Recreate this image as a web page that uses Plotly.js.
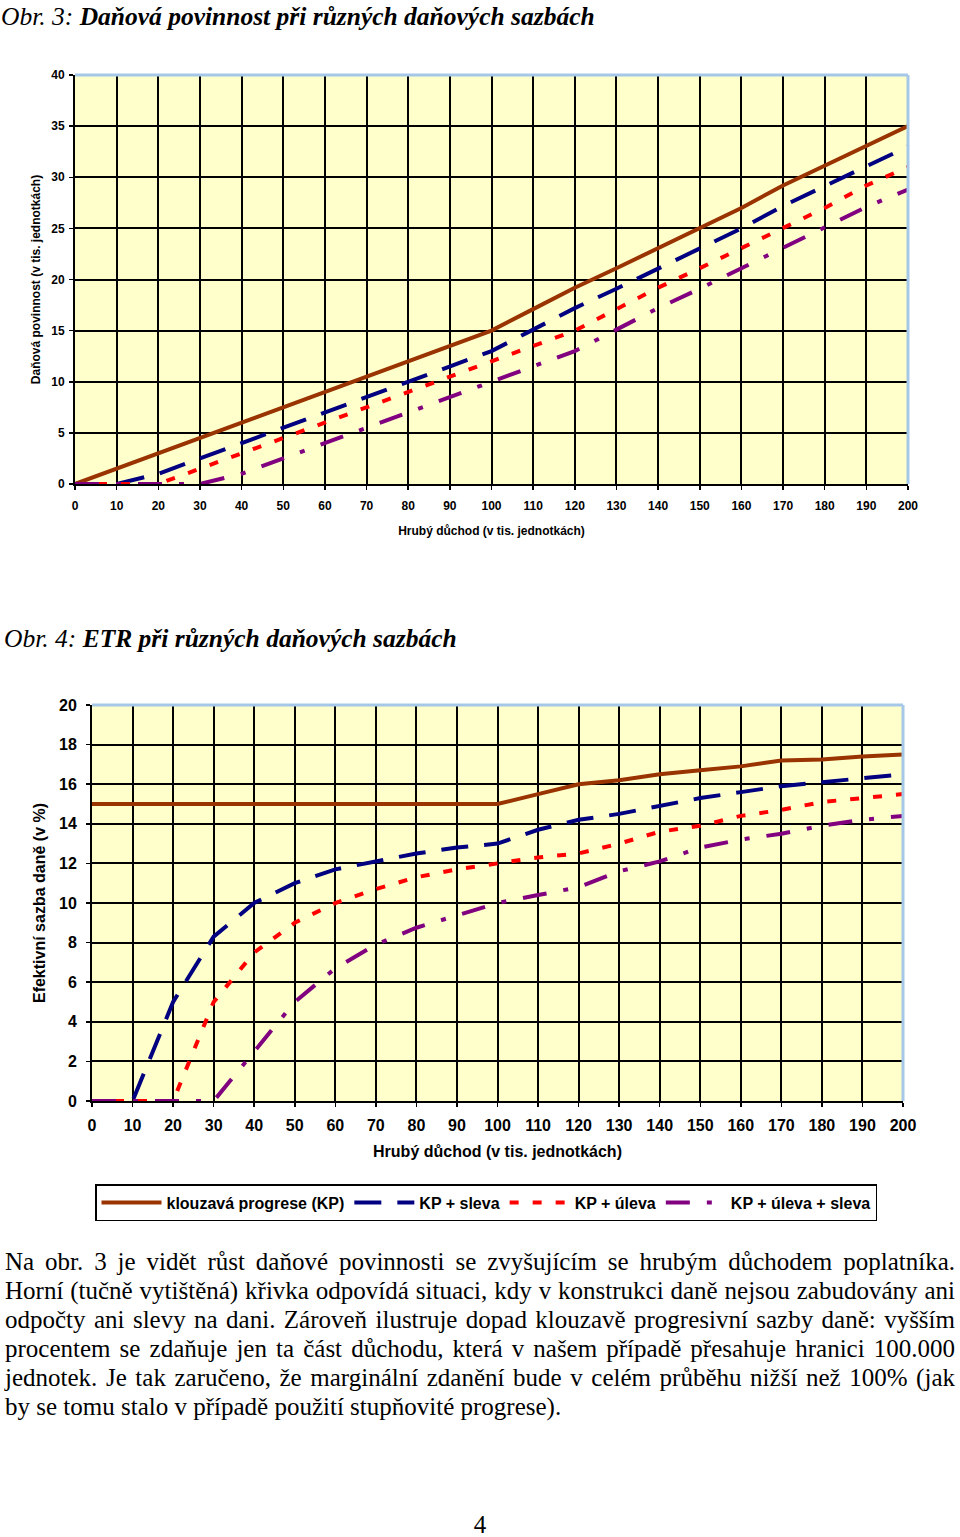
<!DOCTYPE html>
<html><head><meta charset="utf-8">
<script src="https://cdn.plot.ly/plotly-3.0.1.min.js"></script>
<style>
body{margin:0;background:#fff;width:960px;height:1537px;position:relative;overflow:hidden}
#chart{position:absolute;left:0;top:0;width:960px;height:1537px}
#text{position:absolute;left:5px;top:1247px;width:950px;font-family:"Liberation Serif","Times New Roman",serif;font-size:25px;line-height:29px;color:#000}
.ln{text-align:justify;text-align-last:justify;white-space:nowrap}
.last{text-align:left;text-align-last:left}
#page{position:absolute;left:0;width:960px;top:1511px;text-align:center;font-family:"Liberation Serif","Times New Roman",serif;font-size:25px;color:#000}
</style></head>
<body>
<div id="chart"></div>
<div id="text">
<div class="ln">Na obr. 3 je vidět růst daňové povinnosti se zvyšujícím se hrubým důchodem poplatníka.</div>
<div class="ln">Horní (tučně vytištěná) křivka odpovídá situaci, kdy v konstrukci daně nejsou zabudovány ani</div>
<div class="ln">odpočty ani slevy na dani. Zároveň ilustruje dopad klouzavě progresivní sazby daně: vyšším</div>
<div class="ln">procentem se zdaňuje jen ta část důchodu, která v našem případě přesahuje hranici 100.000</div>
<div class="ln">jednotek. Je tak zaručeno, že marginální zdanění bude v celém průběhu nižší než 100% (jak</div>
<div class="ln last">by se tomu stalo v případě použití stupňovité progrese).</div>
</div>
<div id="page">4</div>
<script>
// Hrubý důchod (v tis. jednotkách)
var income = [0,10,20,30,40,50,60,70,80,90,100,110,120,130,140,150,160,170,180,190,200];

// Obr. 3 – daňová povinnost (v tis. jednotkách)
var taxKP          = [0,1.5,3,4.5,6,7.5,9,10.5,12,13.5,15,17.1,19.2,21.1,23.1,25,27,29.2,31.1,33.1,35];
var taxSleva       = [0,0,1,2.5,4,5.5,7,8.5,10,11.5,13,15.1,17.2,19.1,21.1,23,25,27.2,29.1,31.1,33];
var taxUleva       = [0,0,0,1.5,3,4.5,6,7.5,9,10.5,12,13.5,15,17.1,19.2,21.1,23.1,25,27,29.2,31];
var taxUlevaSleva  = [0,0,0,0,1,2.5,4,5.5,7,8.5,10,11.5,13,15.1,17.2,19.1,21.1,23,25,27.1,28.8];

// Obr. 4 – efektivní sazba daně (v %)
var etrKP          = [15,15,15,15,15,15,15,15,15,15,15,15.5,16,16.2,16.5,16.7,16.9,17.2,17.25,17.4,17.5];
var etrSleva       = [0,0,5,8.3,10,11,11.7,12.1,12.5,12.8,13,13.7,14.2,14.5,14.9,15.3,15.6,15.9,16.1,16.3,16.5];
var etrUleva       = [0,0,0,5,7.5,9,10,10.7,11.3,11.7,12,12.3,12.5,13,13.6,13.9,14.4,14.7,15.1,15.3,15.5];
var etrUlevaSleva  = [0,0,0,0,2.5,5,6.7,7.9,8.75,9.4,10,10.4,10.8,11.6,12.1,12.8,13.2,13.5,13.9,14.2,14.4];

var seriesNames = ['klouzavá progrese (KP)','KP + sleva','KP + úleva','KP + úleva + sleva'];
var seriesColors = ['#993300','#000080','#FF0000','#800080'];
var dashes = ['solid','27px,16px','9px,14px','24px,17px,5px,17px'];

var topVals = [taxKP, taxSleva, taxUleva, taxUlevaSleva];
var botVals = [etrKP, etrSleva, etrUleva, etrUlevaSleva];

var traces = [];
topVals.forEach(function(v,i){
  traces.push({x:income, y:v, type:'scatter', mode:'lines', name:seriesNames[i],
    xaxis:'x', yaxis:'y', showlegend:false,
    line:{color:seriesColors[i], width:4, dash:dashes[i]}});
});
botVals.forEach(function(v,i){
  traces.push({x:income, y:v, type:'scatter', mode:'lines', name:seriesNames[i],
    xaxis:'x2', yaxis:'y2', showlegend:true,
    line:{color:seriesColors[i], width:4, dash:dashes[i]}});
});

var H = 1537, W = 960;
function py(p){ return 1 - p/H; }
function px(p){ return p/W; }

var sansB12 = {family:'"Liberation Sans", Arial, sans-serif', size:12, color:'#000', weight:'bold'};
var sansB16 = {family:'"Liberation Sans", Arial, sans-serif', size:16, color:'#000', weight:'bold'};

var axCommon = {showgrid:true, gridcolor:'#000', gridwidth:2, zeroline:false,
  showline:true, linecolor:'#000', linewidth:2, ticks:'outside', ticklen:4, tickcolor:'#000', tickwidth:1.5,
  automargin:false, fixedrange:true};

function ax(extra){ var o={}; for(var k in axCommon) o[k]=axCommon[k]; for(var k2 in extra) o[k2]=extra[k2]; return o; }

var layout = {
  width:W, height:H, margin:{l:0,r:0,t:0,b:0,pad:0,autoexpand:false},
  paper_bgcolor:'#ffffff', plot_bgcolor:'#FFFFCC',
  font:{family:'"Liberation Sans", Arial, sans-serif', color:'#000'},
  xaxis: ax({domain:[px(75),px(908)], anchor:'y', range:[0,200], tick0:0, dtick:10,
    tickfont:sansB12, ticklabelstandoff:6,
    title:{text:'Hrubý důchod (v tis. jednotkách)', font:sansB12, standoff:14}}),
  yaxis: ax({domain:[py(484),py(75)], anchor:'x', range:[0,40], tick0:0, dtick:5,
    tickfont:sansB12, ticklabelstandoff:2,
    title:{text:'Daňová povinnost (v tis. jednotkách)', font:sansB12, standoff:8}}),
  xaxis2: ax({domain:[px(92),px(903)], anchor:'y2', range:[0,200], tick0:0, dtick:10,
    tickfont:sansB16, ticklabelstandoff:5,
    title:{text:'Hrubý důchod (v tis. jednotkách)', font:sansB16, standoff:13}}),
  yaxis2: ax({domain:[py(1101),py(705)], anchor:'x2', range:[0,20], tick0:0, dtick:2,
    tickfont:sansB16, ticklabelstandoff:6,
    title:{text:'Efektivní sazba daně (v %)', font:sansB16, standoff:9}}),
  showlegend:true,
  legend:{orientation:'h', x:px(95), xanchor:'left', y:py(1184), yanchor:'top',
    bgcolor:'#ffffff', bordercolor:'#000', borderwidth:1.5, itemwidth:60,
    font:sansB16, traceorder:'normal'},
  shapes:[
    {type:'line', xref:'x domain', yref:'y domain', x0:0, x1:1, y0:1, y1:1, line:{color:'#A6C8E8', width:3}},
    {type:'line', xref:'x domain', yref:'y domain', x0:1, x1:1, y0:0, y1:1, line:{color:'#A6C8E8', width:3}},
    {type:'line', xref:'x2 domain', yref:'y2 domain', x0:0, x1:1, y0:1, y1:1, line:{color:'#A6C8E8', width:3}},
    {type:'line', xref:'x2 domain', yref:'y2 domain', x0:1, x1:1, y0:0, y1:1, line:{color:'#A6C8E8', width:3}}
  ],
  annotations:[
    {xref:'paper', yref:'paper', x:px(-1), y:1, xanchor:'left', yanchor:'top', showarrow:false,
     text:'<i>Obr. 3: </i><b><i>Daňová povinnost při různých daňových sazbách</i></b>',
     font:{family:'"Liberation Serif", "Times New Roman", serif', size:25.5, color:'#000'}},
    {xref:'paper', yref:'paper', x:px(2), y:py(638), xanchor:'left', yanchor:'middle', showarrow:false,
     text:'<i>Obr. 4: </i><b><i>ETR při různých daňových sazbách</i></b>',
     font:{family:'"Liberation Serif", "Times New Roman", serif', size:25.5, color:'#000'}}
  ]
};

Plotly.newPlot('chart', traces, layout, {staticPlot:true, displayModeBar:false});
</script>
</body></html>
